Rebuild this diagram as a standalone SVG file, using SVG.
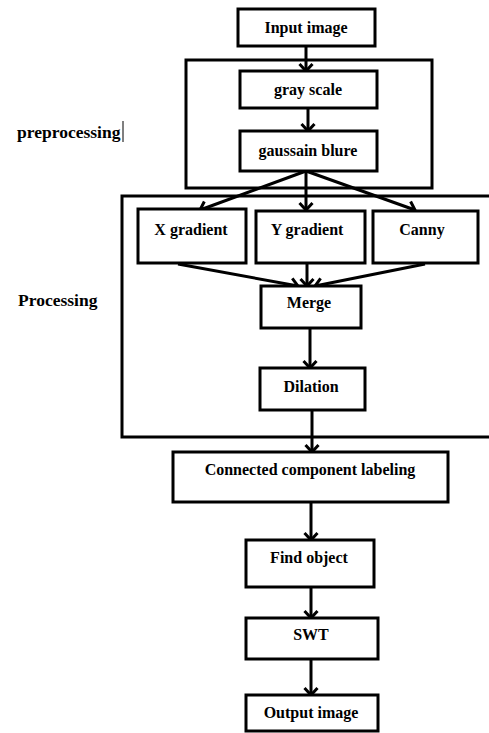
<svg xmlns="http://www.w3.org/2000/svg" width="489" height="733" viewBox="0 0 489 733">
<style>
.box{fill:#fff;stroke:#000;stroke-width:3}
.grp{fill:none;stroke:#000;stroke-width:3}
.t{font-family:"Liberation Serif","Times New Roman",serif;font-weight:bold;font-size:16px;fill:#000;text-anchor:middle}
.lbl{font-family:"Liberation Serif","Times New Roman",serif;font-weight:bold;font-size:17.5px;fill:#000}
.c{fill:none;stroke:#000;stroke-width:3;marker-end:url(#ah)}
</style>
<defs>
<marker id="ah" markerUnits="userSpaceOnUse" markerWidth="16" markerHeight="16" refX="9" refY="8" orient="auto" overflow="visible">
<path d="M2,1.5 L9,8 L2,14.5" fill="none" stroke="#000" stroke-width="3"/>
</marker>
</defs>
<rect width="489" height="733" fill="#fff"/>
<g id="preprocessing-group">
<rect class="grp" x="186" y="60" width="246" height="128"/>
<text class="lbl" x="17" y="138">preprocessing</text>
<line x1="123" y1="121" x2="123" y2="142" stroke="#000" stroke-width="1"/>
</g>
<g id="processing-group">
<path class="grp" d="M495,196 H122 V437 H495"/>
<text class="lbl" x="18" y="306">Processing</text>
</g>
<g id="connectors">
<line class="c" x1="306" y1="46" x2="306" y2="71"/>
<line class="c" x1="308" y1="108" x2="308" y2="131"/>
<line class="c" x1="306" y1="171" x2="200" y2="210"/>
<line class="c" x1="306" y1="171" x2="306" y2="210"/>
<line class="c" x1="306" y1="171" x2="415" y2="210"/>
<line class="c" x1="178" y1="264" x2="298" y2="286"/>
<line class="c" x1="307" y1="263" x2="307" y2="286"/>
<line class="c" x1="425" y1="264" x2="315" y2="286"/>
<line class="c" x1="310" y1="328" x2="310" y2="368"/>
<line class="c" x1="312" y1="410" x2="312" y2="452"/>
<line class="c" x1="311" y1="502" x2="311" y2="540"/>
<line class="c" x1="311" y1="587" x2="311" y2="618"/>
<line class="c" x1="311" y1="659" x2="311" y2="695"/>
</g>
<g id="input-image"><rect class="box" x="238" y="9" width="137" height="37"/><text class="t" x="306" y="33">Input image</text></g>
<g id="gray-scale"><rect class="box" x="240" y="71" width="137" height="37"/><text class="t" x="308" y="95">gray scale</text></g>
<g id="gaussain-blure"><rect class="box" x="240" y="131" width="137" height="40"/><text class="t" x="308" y="156">gaussain blure</text></g>
<g id="x-gradient"><rect class="box" x="138" y="209" width="108" height="54"/><text class="t" x="191" y="235">X gradient</text></g>
<g id="y-gradient"><rect class="box" x="256" y="211" width="109" height="52"/><text class="t" x="307" y="235">Y gradient</text></g>
<g id="canny"><rect class="box" x="373" y="211" width="105" height="52"/><text class="t" x="422" y="235">Canny</text></g>
<g id="merge"><rect class="box" x="261" y="286" width="100" height="42"/><text class="t" x="309" y="308">Merge</text></g>
<g id="dilation"><rect class="box" x="260" y="368" width="105" height="42"/><text class="t" x="311" y="392">Dilation</text></g>
<g id="ccl"><rect class="box" x="173" y="452" width="275" height="50"/><text class="t" x="310" y="475">Connected component labeling</text></g>
<g id="find-object"><rect class="box" x="246" y="540" width="128" height="47"/><text class="t" x="309" y="563">Find object</text></g>
<g id="swt"><rect class="box" x="246" y="618" width="132" height="41"/><text class="t" x="311" y="640">SWT</text></g>
<g id="output-image"><rect class="box" x="246" y="695" width="132" height="36"/><text class="t" x="311" y="718">Output image</text></g>
</svg>
